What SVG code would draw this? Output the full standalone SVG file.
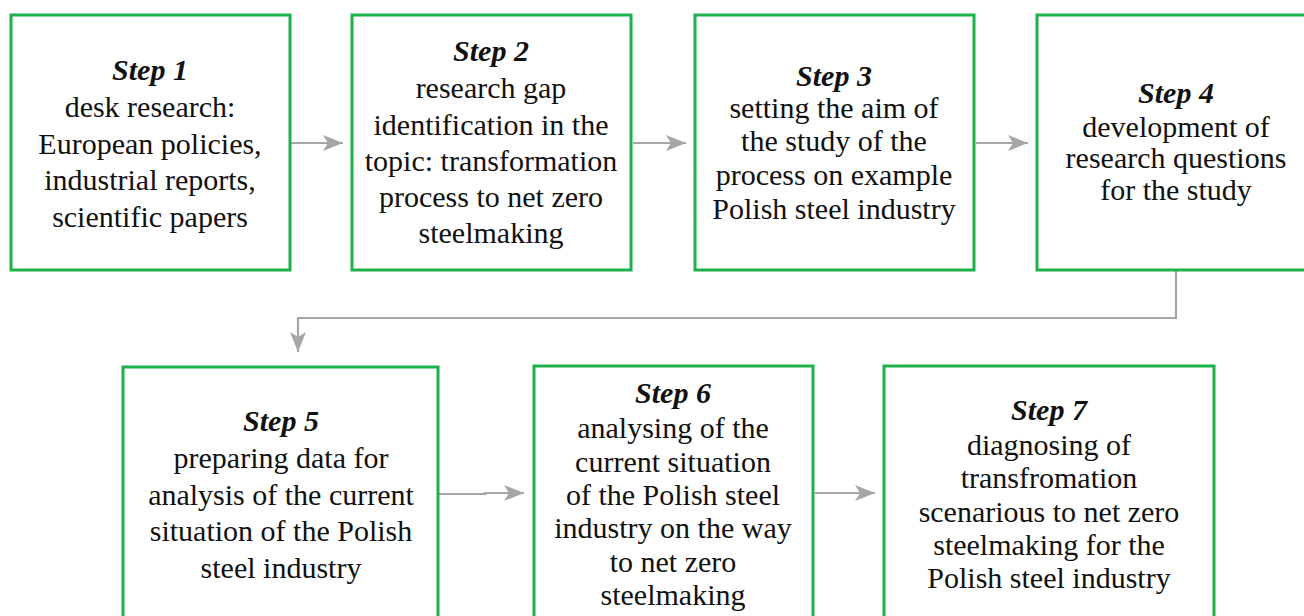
<svg xmlns="http://www.w3.org/2000/svg" width="1304" height="616" viewBox="0 0 1304 616">
<style>
.box{fill:#fff;stroke:#1db04b;stroke-width:3}
.t{font-family:"Liberation Serif","DejaVu Serif","Noto Serif",serif;font-size:30px;fill:#111;text-anchor:middle}
.h{font-style:italic;font-weight:bold}
.c{fill:none;stroke:#a6a6a6;stroke-width:2.2}
</style>
<defs>
<marker id="ah" markerUnits="userSpaceOnUse" markerWidth="22" markerHeight="20" viewBox="0 0 22 20" refX="20" refY="10" orient="auto">
<path d="M0,2 L20,10 L0,18 L5,10 Z" fill="#a6a6a6"/>
</marker>
</defs>
<rect width="1304" height="616" fill="#fff"/>
<g id="connectors">
<path class="c" d="M291,143 H343" marker-end="url(#ah)"/>
<path class="c" d="M633,143 H686" marker-end="url(#ah)"/>
<path class="c" d="M976,143 H1028" marker-end="url(#ah)"/>
<path class="c" d="M1176,271 V318 H298 V352" marker-end="url(#ah)"/>
<path class="c" d="M439,494 H485 V493 H524" marker-end="url(#ah)"/>
<path class="c" d="M815,493 H875" marker-end="url(#ah)"/>
</g>
<g id="step1">
<rect class="box" x="11" y="15" width="279" height="255"/>
<text class="t h" x="150" y="80">Step 1</text>
<text class="t" x="150" y="117">desk research:</text>
<text class="t" x="150" y="154">European policies,</text>
<text class="t" x="150" y="190">industrial reports,</text>
<text class="t" x="150" y="227">scientific papers</text>
</g>
<g id="step2">
<rect class="box" x="352" y="15" width="279" height="255"/>
<text class="t h" x="491" y="61">Step 2</text>
<text class="t" x="491" y="98">research gap</text>
<text class="t" x="491" y="135">identification in the</text>
<text class="t" x="491" y="171">topic: transformation</text>
<text class="t" x="491" y="207">process to net zero</text>
<text class="t" x="491" y="243">steelmaking</text>
</g>
<g id="step3">
<rect class="box" x="695" y="15" width="279" height="255"/>
<text class="t h" x="834" y="86">Step 3</text>
<text class="t" x="834" y="118">setting the aim of</text>
<text class="t" x="834" y="151">the study of the</text>
<text class="t" x="834" y="185">process on example</text>
<text class="t" x="834" y="219">Polish steel industry</text>
</g>
<g id="step4">
<rect class="box" x="1037" y="15" width="279" height="255"/>
<text class="t h" x="1176" y="103">Step 4</text>
<text class="t" x="1176" y="137">development of</text>
<text class="t" x="1176" y="168">research questions</text>
<text class="t" x="1176" y="200">for the study</text>
</g>
<g id="step5">
<rect class="box" x="123" y="367" width="315" height="270"/>
<text class="t h" x="281" y="431">Step 5</text>
<text class="t" x="281" y="468">preparing data for</text>
<text class="t" x="281" y="505">analysis of the current</text>
<text class="t" x="281" y="541">situation of the Polish</text>
<text class="t" x="281" y="578">steel industry</text>
</g>
<g id="step6">
<rect class="box" x="534" y="366" width="279" height="270"/>
<text class="t h" x="673" y="403">Step 6</text>
<text class="t" x="673" y="438">analysing of the</text>
<text class="t" x="673" y="472">current situation</text>
<text class="t" x="673" y="505">of the Polish steel</text>
<text class="t" x="673" y="538">industry on the way</text>
<text class="t" x="673" y="572">to net zero</text>
<text class="t" x="673" y="605">steelmaking</text>
</g>
<g id="step7">
<rect class="box" x="884" y="366" width="330" height="270"/>
<text class="t h" x="1049" y="420">Step 7</text>
<text class="t" x="1049" y="455">diagnosing of</text>
<text class="t" x="1049" y="488">transfromation</text>
<text class="t" x="1049" y="522">scenarious to net zero</text>
<text class="t" x="1049" y="555">steelmaking for the</text>
<text class="t" x="1049" y="588">Polish steel industry</text>
</g>
</svg>
